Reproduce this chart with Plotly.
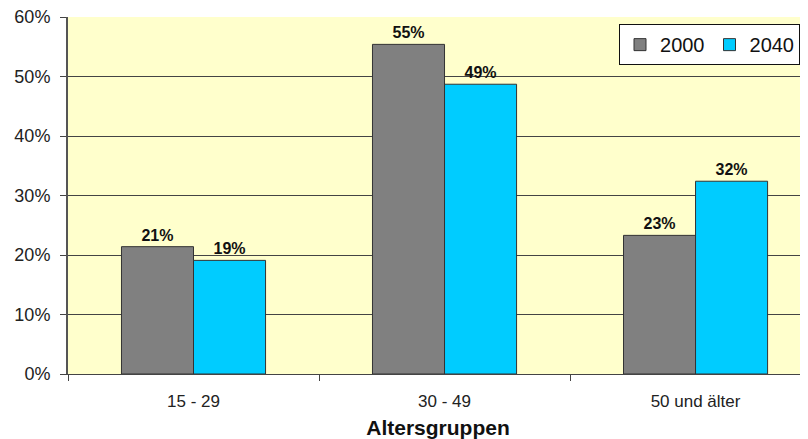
import plotly.graph_objects as go

categories = ["15 - 29", "30 - 49", "50 und älter"]
values_2000 = [21.4, 55.4, 23.3]
values_2040 = [19.1, 48.7, 32.4]
labels_2000 = ["21%", "55%", "23%"]
labels_2040 = ["19%", "49%", "32%"]
y_ticks = [0, 10, 20, 30, 40, 50, 60]
y_tick_labels = ["0%", "10%", "20%", "30%", "40%", "50%", "60%"]

fig = go.Figure()
fig.add_trace(go.Bar(
    name="2000", x=categories, y=values_2000, text=labels_2000,
    textposition="outside", cliponaxis=False, constraintext="none",
    marker=dict(color="#808080", line=dict(color="#333333", width=1)),
    textfont=dict(family="Liberation Sans, Arial", size=16, color="#111111", weight="bold"),
))
fig.add_trace(go.Bar(
    name="2040", x=categories, y=values_2040, text=labels_2040,
    textposition="outside", cliponaxis=False, constraintext="none",
    marker=dict(color="#00CCFF", line=dict(color="#333333", width=1)),
    textfont=dict(family="Liberation Sans, Arial", size=16, color="#111111", weight="bold"),
))

# page body has an 8px default margin, so the figure is sized/offset to compensate
fig.update_layout(
    width=800, height=431,
    margin=dict(l=60, r=0, t=9, b=65, autoexpand=False),
    paper_bgcolor="white",
    plot_bgcolor="#FFFFCC",
    barmode="group",
    bargap=0.426,
    bargroupgap=0,
    font=dict(family="Liberation Sans, Arial", size=18, color="#222222"),
    legend=dict(
        orientation="h", x=0.7446, y=0.98, xanchor="left", yanchor="top",
        bgcolor="white", bordercolor="#111111", borderwidth=1,
        font=dict(size=20, color="#111111"),
        itemwidth=30, tracegroupgap=0,
    ),
)
fig.update_xaxes(
    range=[-0.5, 2.448],
    tickson="boundaries",
    ticks="outside", ticklen=6, tickcolor="#444444",
    showline=True, linecolor="#444444", linewidth=1,
    ticklabelstandoff=12,
    title=dict(text="<b>Altersgruppen</b>", font=dict(size=21, color="#111111"), standoff=10),
    tickfont=dict(size=17, color="#222222"),
)
fig.update_yaxes(
    range=[0, 60],
    tickmode="array", tickvals=y_ticks, ticktext=y_tick_labels,
    ticks="outside", ticklen=6, tickcolor="#444444",
    showline=True, linecolor="#555555", linewidth=2,
    showgrid=True, gridcolor="#444444", gridwidth=1,
    zeroline=False,
    ticklabelstandoff=6,
    ticklabeloverflow="allow",
    tickfont=dict(size=18, color="#222222"),
)

fig.write_html("out.html")
